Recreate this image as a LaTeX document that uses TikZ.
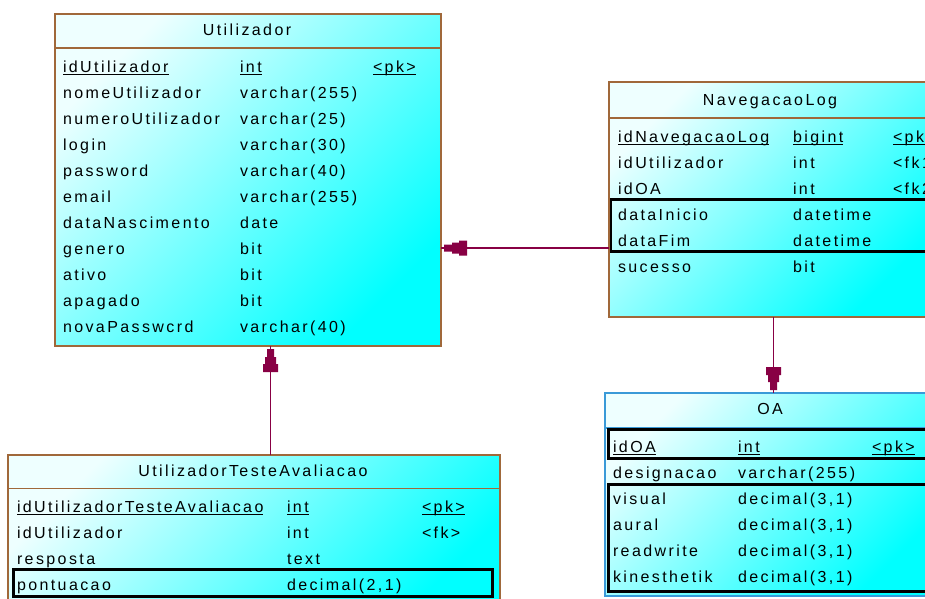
\documentclass[tikz,border=0pt]{standalone}
\usepackage{fontspec}
\newfontfamily\erf[LetterSpace=15]{Liberation Sans}
\newcommand\erfont{\erf\fontsize{16pt}{19pt}\selectfont}
\definecolor{brownc}{HTML}{A0683A}
\definecolor{oablue}{HTML}{3A9AD8}
\definecolor{relc}{HTML}{880044}
\definecolor{lightcyan}{HTML}{EEFFFF}
\definecolor{fullcyan}{HTML}{00FFFF}
\tikzset{
  tbl/.style={rectangle, inner sep=0pt, outer sep=0pt, line width=1.6pt,
    top color=lightcyan, bottom color=fullcyan, shading angle=45},
  browntbl/.style={tbl, draw=brownc},
  bluetbl/.style={tbl, draw=oablue},
  sep/.style={line width=1.6pt},
  fld/.style={anchor=base west, inner sep=0pt, outer sep=0pt, font=\erfont},
  ttl/.style={anchor=base, inner sep=0pt, outer sep=0pt, font=\erfont},
  uline/.style={draw=black, line width=1.1pt},
  hilite/.style={draw=black, line width=2.8pt},
  rel/.style={draw=relc, line width=1.8pt},
}
% stepped arrow head; tip at the origin, body along +x
\newcommand\ertip[2]{\fill[relc, shift={#1}, rotate=#2]
  (3,-3.5) -- (11,-3.5) -- (11,-5.5) -- (18,-5.5) -- (18,-7.5) -- (26,-7.5)
  -- (26,7.5) -- (18,7.5) -- (18,5.5) -- (11,5.5) -- (11,3.5) -- (3,3.5) -- cycle;}
\begin{document}
\begin{tikzpicture}[x=1pt, y=-1pt]
\useasboundingbox (0,0) rectangle (925,598);
\clip (0,0) rectangle (925,598);
\fill[white] (0,0) rectangle (925,598);

% ---------- Utilizador ----------
\node[browntbl, minimum width=386pt, minimum height=332pt] (utilizador) at (248,180) {};
\draw[brownc, sep] (utilizador.west |- 0,48) -- (utilizador.east |- 0,48);
\node[ttl] (utilizadorT) at (247,35.5) {Utilizador};
\node[fld] (u1n) at (63,72) {idUtilizador};
\node[fld] (u1t) at (240,72) {int};
\node[fld] (u1k) at (373,72) {<pk>};
\node[fld] (u2n) at (63,98) {nomeUtilizador};
\node[fld] (u2t) at (240,98) {varchar(255)};
\node[fld] (u3n) at (63,124) {numeroUtilizador};
\node[fld] (u3t) at (240,124) {varchar(25)};
\node[fld] (u4n) at (63,150) {login};
\node[fld] (u4t) at (240,150) {varchar(30)};
\node[fld] (u5n) at (63,176) {password};
\node[fld] (u5t) at (240,176) {varchar(40)};
\node[fld] (u6n) at (63,202) {email};
\node[fld] (u6t) at (240,202) {varchar(255)};
\node[fld] (u7n) at (63,228) {dataNascimento};
\node[fld] (u7t) at (240,228) {date};
\node[fld] (u8n) at (63,254) {genero};
\node[fld] (u8t) at (240,254) {bit};
\node[fld] (u9n) at (63,280) {ativo};
\node[fld] (u9t) at (240,280) {bit};
\node[fld] (u10n) at (63,306) {apagado};
\node[fld] (u10t) at (240,306) {bit};
\node[fld] (u11n) at (63,332) {novaPasswcrd};
\node[fld] (u11t) at (240,332) {varchar(40)};
\foreach \n in {u1n,u1t,u1k}
  \draw[uline] ([yshift=-2.5pt]\n.base west) -- ([yshift=-2.5pt]\n.base east);

% ---------- NavegacaoLog ----------
\node[browntbl, minimum width=322pt, minimum height=235pt] (navlog) at (770,199.5) {};
\draw[brownc, sep] (navlog.west |- 0,118) -- (navlog.east |- 0,118);
\node[ttl] (navlogT) at (770,105.5) {NavegacaoLog};
\node[fld] (n1n) at (618,142) {idNavegacaoLog};
\node[fld] (n1t) at (793,142) {bigint};
\node[fld] (n1k) at (893,142) {<pk>};
\node[fld] (n2n) at (618,168) {idUtilizador};
\node[fld] (n2t) at (793,168) {int};
\node[fld] (n2k) at (893,168) {<fk1>};
\node[fld] (n3n) at (618,194) {idOA};
\node[fld] (n3t) at (793,194) {int};
\node[fld] (n3k) at (893,194) {<fk2>};
\node[fld] (n4n) at (618,220) {dataInicio};
\node[fld] (n4t) at (793,220) {datetime};
\node[fld] (n5n) at (618,246) {dataFim};
\node[fld] (n5t) at (793,246) {datetime};
\node[fld] (n6n) at (618,272) {sucesso};
\node[fld] (n6t) at (793,272) {bit};
\foreach \n in {n1n,n1t,n1k}
  \draw[uline] ([yshift=-2.5pt]\n.base west) -- ([yshift=-2.5pt]\n.base east);
\draw[hilite] (611,199.5) rectangle (945,251.5);

% ---------- OA ----------
\node[bluetbl, minimum width=330pt, minimum height=203pt] (oa) at (770,494.5) {};
\draw[oablue, sep] (oa.west |- 0,428) -- (oa.east |- 0,428);
\node[ttl] (oaT) at (770,414) {OA};
\node[fld] (o1n) at (613,452) {idOA};
\node[fld] (o1t) at (738,452) {int};
\node[fld] (o1k) at (872,452) {<pk>};
\node[fld] (o2n) at (613,478) {designacao};
\node[fld] (o2t) at (738,478) {varchar(255)};
\node[fld] (o3n) at (613,504) {visual};
\node[fld] (o3t) at (738,504) {decimal(3,1)};
\node[fld] (o4n) at (613,530) {aural};
\node[fld] (o4t) at (738,530) {decimal(3,1)};
\node[fld] (o5n) at (613,556) {readwrite};
\node[fld] (o5t) at (738,556) {decimal(3,1)};
\node[fld] (o6n) at (613,582) {kinesthetik};
\node[fld] (o6t) at (738,582) {decimal(3,1)};
\foreach \n in {o1n,o1t,o1k}
  \draw[uline] ([yshift=-2.5pt]\n.base west) -- ([yshift=-2.5pt]\n.base east);
\draw[hilite] (608.5,429.5) rectangle (945,458.5);
\draw[hilite] (608.5,484.5) rectangle (945,591.5);

% ---------- UtilizadorTesteAvaliacao ----------
\node[browntbl, minimum width=492pt, minimum height=160pt] (uta) at (254,535) {};
\draw[brownc, sep] (uta.west |- 0,488.5) -- (uta.east |- 0,488.5);
\node[ttl] (utaT) at (253,476) {UtilizadorTesteAvaliacao};
\node[fld] (t1n) at (17,512) {idUtilizadorTesteAvaliacao};
\node[fld] (t1t) at (287,512) {int};
\node[fld] (t1k) at (422,512) {<pk>};
\node[fld] (t2n) at (17,538) {idUtilizador};
\node[fld] (t2t) at (287,538) {int};
\node[fld] (t2k) at (422,538) {<fk>};
\node[fld] (t3n) at (17,564) {resposta};
\node[fld] (t3t) at (287,564) {text};
\node[fld] (t4n) at (17,590) {pontuacao};
\node[fld] (t4t) at (287,590) {decimal(2,1)};
\foreach \n in {t1n,t1t,t1k}
  \draw[uline] ([yshift=-2.5pt]\n.base west) -- ([yshift=-2.5pt]\n.base east);
\draw[hilite] (13.5,569.5) rectangle (492.5,596.5);

% ---------- references ----------
\coordinate (r1) at (0,248);
\coordinate (r2) at (773.5,0);
\coordinate (r3) at (270.5,0);
\draw[rel] (navlog.west |- r1) -- (utilizador.east |- r1);
\draw[rel] (navlog.south -| r2) -- (oa.north -| r2);
\draw[rel] (uta.north -| r3) -- (utilizador.south -| r3);
\ertip{(utilizador.east |- r1)}{0}
\ertip{(oa.north -| r2)}{90}
\ertip{(utilizador.south -| r3)}{-90}
\end{tikzpicture}
\end{document}
